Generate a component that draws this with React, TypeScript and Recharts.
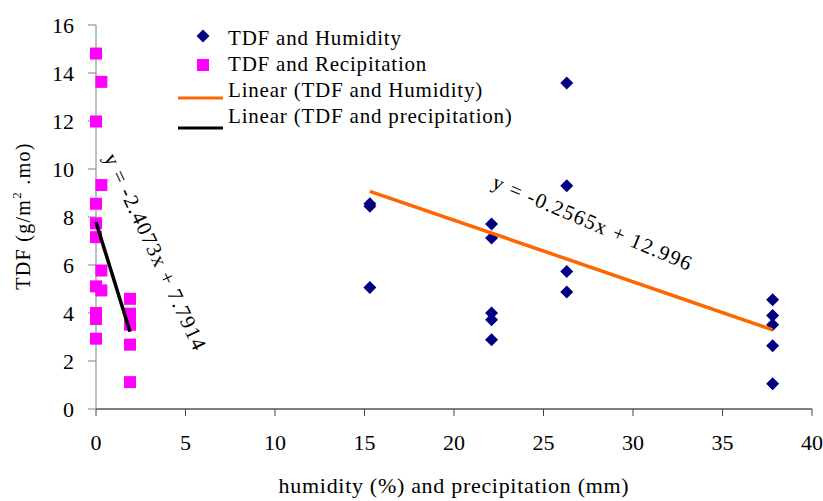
import React from 'react';
import { ScatterChart, Scatter, XAxis, YAxis, ReferenceDot, Label } from 'recharts';

// Humidity (%) vs TDF
const humidityX = [15.3, 15.3, 15.3, 22.1, 22.1, 22.1, 22.1, 22.1, 26.3, 26.3, 26.3, 26.3, 37.8, 37.8, 37.8, 37.8, 37.8];
const humidityY = [8.55, 8.45, 5.06, 7.71, 7.12, 4.0, 3.72, 2.89, 13.58, 9.3, 5.73, 4.87, 4.55, 3.9, 3.51, 2.64, 1.05];

// Precipitation (mm) vs TDF
const precipX = [0, 0.3, 0, 0.3, 0, 0, 0, 0.3, 0, 0.3, 0, 0, 0, 1.9, 1.9, 1.9, 1.9, 1.9];
const precipY = [14.81, 13.63, 11.98, 9.33, 8.55, 7.74, 7.16, 5.77, 5.11, 4.94, 4.0, 3.75, 2.93, 4.59, 3.97, 3.51, 2.68, 1.12];

// Trend line coefficients (from the chart's equations)
const humSlope = -0.2565;
const humIntercept = 12.996;
const preSlope = -2.4073;
const preIntercept = 7.7914;

const xTicks = [0, 5, 10, 15, 20, 25, 30, 35, 40];
const yTicks = [0, 2, 4, 6, 8, 10, 12, 14, 16];

const legendLabels = ['TDF and Humidity', 'TDF and Recipitation', 'Linear (TDF and Humidity)', 'Linear (TDF and precipitation)'];
const eqHum = 'y = -0.2565x + 12.996';
const eqPre = 'y = -2.4073x + 7.7914';

const humData = humidityX.map((x, i) => ({ x, y: humidityY[i] }));
const preData = precipX.map((x, i) => ({ x, y: precipY[i] }));

const hxMin = Math.min(...humidityX);
const hxMax = Math.max(...humidityX);
const pxMin = Math.min(...precipX);
const pxMax = Math.max(...precipX);
const humTrend = [
  { x: hxMin, y: humSlope * hxMin + humIntercept },
  { x: hxMax, y: humSlope * hxMax + humIntercept },
];
const preTrend = [
  { x: pxMin, y: preSlope * pxMin + preIntercept },
  { x: pxMax, y: preSlope * pxMax + preIntercept },
];

const FONT = '"Liberation Serif", "Times New Roman", serif';
const LS = 1.3;

const Diamond = (props: any) => {
  const { cx, cy } = props;
  const r = 6.5;
  return <path d={`M${cx},${cy - r}L${cx + r},${cy}L${cx},${cy + r}L${cx - r},${cy}Z`} fill="#000080" />;
};

const Square = (props: any) => {
  const { cx, cy } = props;
  const s = 12;
  return <rect x={cx - s / 2} y={cy - s / 2} width={s} height={s} fill="#ff00ff" />;
};

const NoShape = () => <g />;

const makeEq = (text: string, angle: number) => (props: any) => {
  const { cx, cy } = props;
  return (
    <text
      x={cx}
      y={cy}
      transform={`rotate(${angle}, ${cx}, ${cy})`}
      textAnchor="middle"
      dominantBaseline="middle"
      fontFamily={FONT}
      fontSize={21}
      letterSpacing={1.3}
      fill="#000"
    >
      {text}
    </text>
  );
};

const LegendBox = () => (
  <svg width={360} height={120} style={{ position: 'absolute', left: 175, top: 25, display: 'block' }}>
    <path d="M28,4.5L34.5,11L28,17.5L21.5,11Z" fill="#000080" />
    <rect x={22} y={34} width={12} height={12} fill="#ff00ff" />
    <line x1={3} y1={73} x2={48} y2={73} stroke="#ff6600" strokeWidth={3} />
    <line x1={3} y1={103} x2={48} y2={103} stroke="#000" strokeWidth={3} />
    {legendLabels.map((t, i) => (
      <text key={t} x={53} y={15 + i * 26} dominantBaseline="middle" fontFamily={FONT} fontSize={21} letterSpacing={0.8} fill="#000">
        {t}
      </text>
    ))}
  </svg>
);

export default function App() {
  return (
    <div style={{ position: 'absolute', left: 0, top: 0, width: 823, height: 501, background: '#fff' }}>
      <ScatterChart
        width={823}
        height={501}
        margin={{ top: 25, right: 11, bottom: 0, left: 0 }}
        style={{ fontFamily: FONT }}
      >
        <XAxis
          type="number"
          dataKey="x"
          domain={[0, 40]}
          ticks={xTicks}
          interval={0}
          stroke="#000"
          tickLine={{ stroke: '#444' }}
          tickSize={7}
          tick={{ fill: '#000', fontSize: 22, fontFamily: FONT, dy: 16 }}
          height={92}
        >
          <Label
            value="humidity (%) and precipitation (mm)"
            position="insideBottom"
            offset={8}
            style={{ fill: '#000', fontSize: 22, fontFamily: FONT, letterSpacing: 0.7 }}
          />
        </XAxis>
        <YAxis
          type="number"
          dataKey="y"
          domain={[0, 16]}
          ticks={yTicks}
          interval={0}
          stroke="#808080"
          tickLine={{ stroke: '#808080' }}
          tickSize={8}
          tick={{ fill: '#000', fontSize: 22, fontFamily: FONT, dx: -12 }}
          width={96}
        >
          <Label
            content={() => (
              <text
                x={25}
                y={216}
                transform="rotate(-90, 25, 216)"
                textAnchor="middle"
                dominantBaseline="middle"
                fontFamily={FONT}
                fontSize={20}
                letterSpacing={LS}
                fill="#000"
              >
                TDF (g/m
                <tspan dy={-7} fontSize={13}>2</tspan>
                <tspan dy={7}> .mo)</tspan>
              </text>
            )}
          />
        </YAxis>
        <Scatter name="TDF and Humidity" data={humData} shape={<Diamond />} isAnimationActive={false} />
        <Scatter name="TDF and Recipitation" data={preData} shape={<Square />} isAnimationActive={false} />
        <Scatter
          name="Linear (TDF and Humidity)"
          data={humTrend}
          line={{ stroke: '#ff6600', strokeWidth: 3.5 }}
          shape={<NoShape />}
          isAnimationActive={false}
        />
        <Scatter
          name="Linear (TDF and precipitation)"
          data={preTrend}
          line={{ stroke: '#000', strokeWidth: 3.5 }}
          shape={<NoShape />}
          isAnimationActive={false}
        />
        <ReferenceDot x={27.7} y={7.67} r={0} shape={makeEq(eqHum, 23)} ifOverflow="visible" />
        <ReferenceDot x={3.2} y={6.5} r={0} shape={makeEq(eqPre, 65)} ifOverflow="visible" />
      </ScatterChart>
      <LegendBox />
    </div>
  );
}
